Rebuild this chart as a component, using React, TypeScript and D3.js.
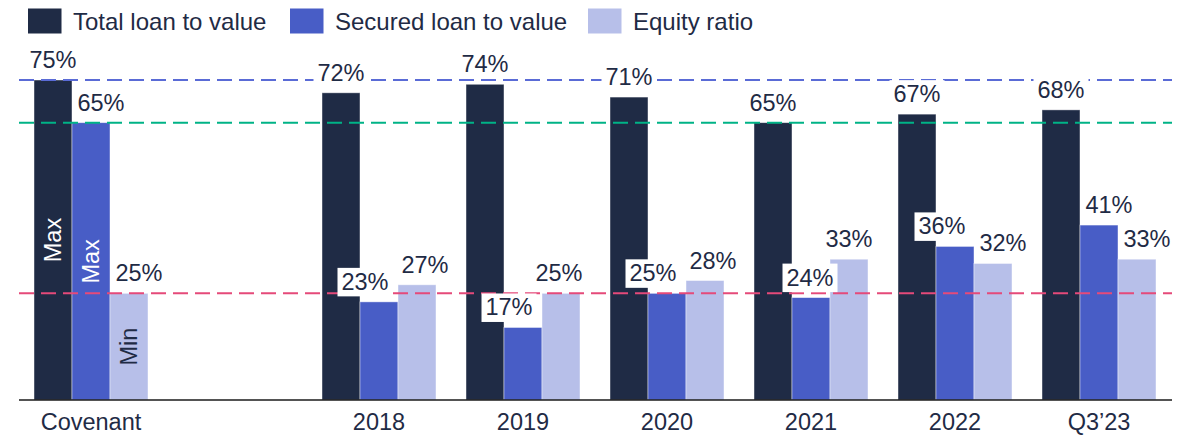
import React from "react";
import * as d3 from "d3";

const categories = ["Covenant", "gap", "2018", "2019", "2020", "2021", "2022", "Q3\u201923"];
const seriesNames = ["Total loan to value", "Secured loan to value", "Equity ratio"];
const totalLTV = [75, null, 72, 74, 71, 65, 67, 68];
const securedLTV = [65, null, 23, 17, 25, 24, 36, 41];
const equityRatio = [25, null, 27, 25, 28, 33, 32, 33];
const covenantNotes = ["Max", "Max", "Min"];
const covenantLines = [75, 65, 25];

// label nudges (px) to avoid overlaps, per series per category
const totalDx = [0, 0, 0, 0, 0, 0, 0, 0];
const securedDx = [10, 0, -14, -14, -14, -1, -13, 10];
const equityDx = [10, 0, 8, -2, 8, 0, 10, 10];

const W = 1178;
const H = 435;
const colors = ["#1f2b45", "#485dc6", "#b7bfe9"];
const lineColors = ["#5a6bd6", "#00b386", "#e54a7a"];
const textColor = "#1f2b45";
const FONT = "Liberation Sans, Arial, Helvetica, sans-serif";

export default function App() {
  const series = [totalLTV, securedLTV, equityRatio];
  const dxs = [totalDx, securedDx, equityDx];

  const x0 = d3
    .scaleBand<string>()
    .domain(categories)
    .range([19, 1171])
    .paddingInner(30 / 144)
    .paddingOuter(15 / 144);
  const x1 = d3
    .scaleBand<number>()
    .domain([0, 1, 2])
    .range([0, x0.bandwidth()]);
  const y = d3.scaleLinear().domain([0, 75]).range([400, 80]);

  const bars: any[] = [];
  const labels: any[] = [];
  const notes: any[] = [];
  categories.forEach((c, ci) => {
    series.forEach((s, si) => {
      const v = s[ci];
      if (v == null) return;
      const bx = (x0(c) as number) + (x1(si) as number);
      const bw = x1.bandwidth();
      bars.push(
        <rect
          key={`b-${ci}-${si}`}
          x={bx}
          y={y(v)}
          width={bw}
          height={y(0) - y(v)}
          fill={colors[si]}
          stroke="#ffffff"
          strokeOpacity={0.55}
          strokeWidth={0.8}
        />
      );
      const text = `${v}%`;
      const tw = text.length === 3 ? 47 : 36;
      const cx = bx + bw / 2 + dxs[si][ci];
      const base = y(v) - 12;
      labels.push(
        <g key={`l-${ci}-${si}`}>
          <rect x={cx - tw / 2 - 4} y={base - 22} width={tw + 8} height={28.5} fill="#ffffff" />
          <text
            x={cx}
            y={base}
            textAnchor="middle"
            fontSize={23.5}
            fontFamily={FONT}
            fill={textColor}
          >
            {text}
          </text>
        </g>
      );
      if (c === "Covenant") {
        const cy = (y(v) + y(0)) / 2;
        notes.push(
          <text
            key={`n-${si}`}
            transform={`translate(${bx + bw / 2},${cy}) rotate(-90)`}
            textAnchor="middle"
            dy="0.35em"
            fontSize={23.5}
            fontFamily={FONT}
            fill={si === 2 ? textColor : "#ffffff"}
          >
            {covenantNotes[si]}
          </text>
        );
      }
    });
  });

  const legendX = [28, 290, 588];

  return (
    <svg
      width={W}
      height={H}
      style={{ position: "absolute", left: 0, top: 0, background: "#ffffff" }}
    >
      {/* legend */}
      {seriesNames.map((n, i) => (
        <g key={`lg-${i}`} transform={`translate(${legendX[i]},0)`}>
          <rect x={0} y={8.5} width={33.5} height={25} fill={colors[i]} />
          <text x={45} y={29.5} fontSize={24} fontFamily={FONT} fill={textColor}>
            {n}
          </text>
        </g>
      ))}

      {bars}
      {notes}

      {/* axis */}
      <line x1={19} x2={1172} y1={y(0)} y2={y(0)} stroke="#1a1a1a" strokeWidth={1.6} />
      {categories.map((c) =>
        c === "gap" ? null : (
          <text
            key={`t-${c}`}
            x={(x0(c) as number) + x0.bandwidth() / 2}
            y={430}
            textAnchor="middle"
            fontSize={23.5}
            fontFamily={FONT}
            fill={textColor}
          >
            {c}
          </text>
        )
      )}

      {/* covenant reference lines */}
      {covenantLines.map((v, i) => (
        <line
          key={`rl-${i}`}
          x1={19}
          x2={1172}
          y1={y(v)}
          y2={y(v)}
          stroke={lineColors[i]}
          strokeWidth={2}
          strokeDasharray="15,7"
        />
      ))}

      {labels}
    </svg>
  );
}
